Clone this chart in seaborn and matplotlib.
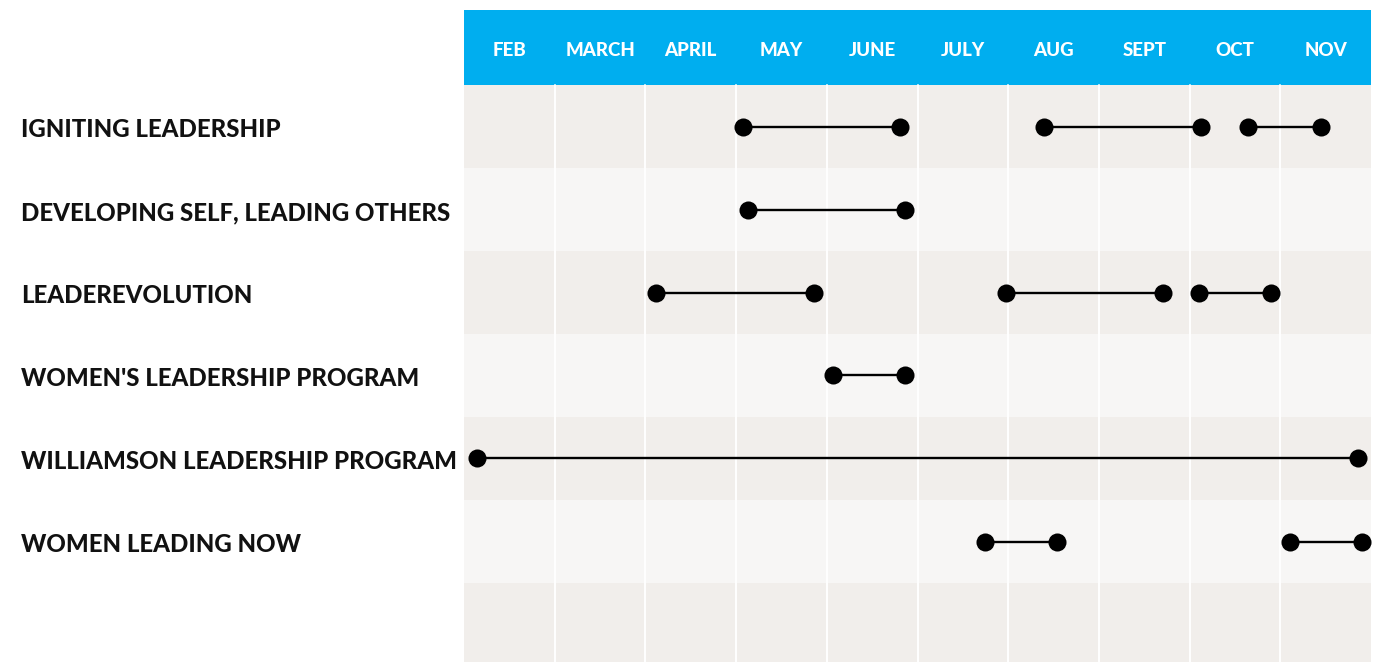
import pandas as pd
import matplotlib.pyplot as plt
import matplotlib.transforms as mtransforms
import seaborn as sns

# Programs and their session windows (in months from start of FEB)
months = ["FEB", "MARCH", "APRIL", "MAY", "JUNE", "JULY", "AUG", "SEPT", "OCT", "NOV"]
programs = [
    "IGNITING LEADERSHIP",
    "DEVELOPING SELF, LEADING OTHERS",
    "LEADEREVOLUTION",
    "WOMEN'S LEADERSHIP PROGRAM",
    "WILLIAMSON LEADERSHIP PROGRAM",
    "WOMEN LEADING NOW",
]
starts = [[3.08, 6.39, 8.64], [3.13], [2.12, 5.98, 8.10], [4.07], [0.14], [5.74, 9.11]]
ends = [[4.81, 8.13, 9.45], [4.86], [3.86, 7.71, 8.90], [4.86], [9.86], [6.54, 9.90]]

rows = []
seg = 0
for i, name in enumerate(programs):
    for s, e in zip(starts[i], ends[i]):
        rows.append({"seg": seg, "row": i, "month": s})
        rows.append({"seg": seg, "row": i, "month": e})
        seg += 1
df = pd.DataFrame(rows)

sns.set_style("white")
plt.rcParams["font.family"] = ["Lato", "DejaVu Sans"]

fig = plt.figure(figsize=(13.83, 6.62), dpi=100)
ax = fig.add_axes([464 / 1383, 0, (1371 - 464) / 1383, 652 / 662])

top = -0.5 - 75 / 83
bottom = -0.5 + 577 / 83

# background bands
ax.axhspan(top, -0.5, color="#00aeef", lw=0)
band_colors = ["#f1eeeb", "#f7f6f5"]
for i in range(7):
    ax.axhspan(i - 0.5, i + 0.5, color=band_colors[i % 2], lw=0)
for m in range(1, len(months)):
    ax.plot([m, m], [-0.5, bottom], color="white", lw=1.4, zorder=1)

sns.lineplot(data=df, x="month", y="row", units="seg", estimator=None, sort=False,
             color="black", lw=1.7, marker="o", markersize=13, markeredgewidth=0,
             ax=ax, zorder=3, legend=False)

for m, name in enumerate(months):
    ax.text(m + 0.5, -0.92, name, ha="center", va="center", color="white",
            fontsize=13.5, fontweight="black")

label_tr = mtransforms.blended_transform_factory(fig.transFigure, ax.transData)
for i, name in enumerate(programs):
    ax.text(21 / 1383, i + 0.04, name, transform=label_tr,
            ha="left", va="center", fontsize=17.3, fontweight="black", color="#111111")

ax.set_xlim(0, len(months))
ax.set_ylim(bottom, top)
ax.set_xlabel("")
ax.set_ylabel("")
ax.set_xticks([])
ax.set_yticks([])
sns.despine(ax=ax, left=True, bottom=True)

fig.savefig("out.png", dpi=100)
